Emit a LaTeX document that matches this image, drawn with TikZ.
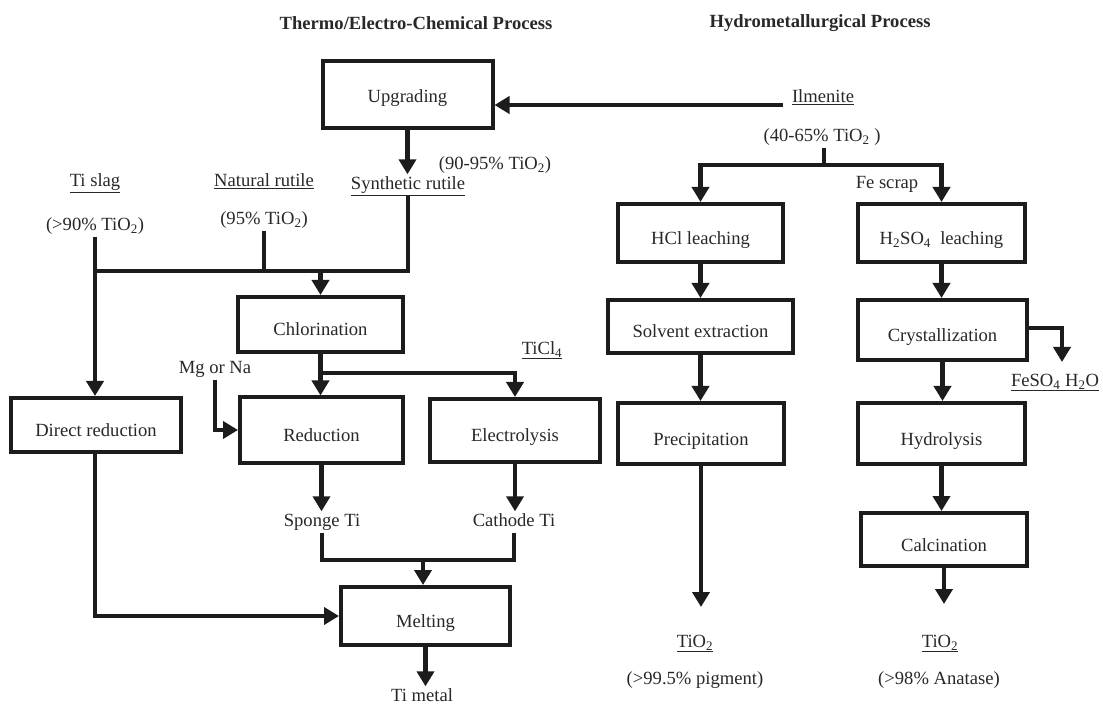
\documentclass[tikz,border=0pt]{standalone}
\usepackage{fontspec}
\setmainfont{Liberation Serif}
\usetikzlibrary{arrows.meta}
\definecolor{ink}{RGB}{28,28,28}
\definecolor{txt}{RGB}{40,40,40}
\begin{document}
\begin{tikzpicture}[x=1pt,y=-1pt,
  every node/.style={font=\fontsize{18.6}{22}\selectfont, text=txt, inner sep=2pt},
  proc/.style={draw=ink, line width=4pt, text height=23pt, text depth=0pt},
  lbl/.style={text height=13pt, text depth=4pt},
  ttl/.style={font=\fontsize{18.6}{22}\selectfont\bfseries},
  ln/.style={draw=ink, line width=4.5pt, line join=miter},
  arr/.style={ln, -{Triangle[width=17pt,length=15pt]}}
]
\useasboundingbox[fill=white] (0,0) rectangle (1103,708);

% titles
\node[ttl] (t1) at (416,23) {Thermo/Electro-Chemical Process};
\node[ttl] (t2) at (820,23) {Hydrometallurgical Process};

% boxes
\node[proc, minimum width=170pt, minimum height=67pt, text height=16pt] (upg) at (407.5,95) {Upgrading};
\node[proc, minimum width=165pt, minimum height=55pt] (chl) at (320.5,324.5) {Chlorination};
\node[proc, minimum width=170pt, minimum height=54pt] (dir) at (96,425) {Direct reduction};
\node[proc, minimum width=163pt, minimum height=65pt] (red) at (321.5,430) {Reduction};
\node[proc, minimum width=170pt, minimum height=63pt] (ele) at (515,430.5) {Electrolysis};
\node[proc, minimum width=169pt, minimum height=58pt] (mel) at (425.5,616) {Melting};
\node[proc, minimum width=165pt, minimum height=58pt] (hcl) at (700.5,233) {HCl leaching};
\node[proc, minimum width=167pt, minimum height=58pt] (hso) at (941.5,233) {H\textsubscript{2}SO\textsubscript{4}\ \ leaching};
\node[proc, minimum width=185pt, minimum height=53pt] (sol) at (700.5,326.5) {Solvent extraction};
\node[proc, minimum width=169pt, minimum height=60pt] (cry) at (942.5,330) {Crystallization};
\node[proc, minimum width=166pt, minimum height=61pt] (pre) at (701,433.5) {Precipitation};
\node[proc, minimum width=167pt, minimum height=61pt] (hyd) at (941.5,433.5) {Hydrolysis};
\node[proc, minimum width=166pt, minimum height=53pt] (cal) at (944,539.5) {Calcination};

% labels
\node[lbl] (ilm) at (823,98) {\underline{Ilmenite}};
\node[lbl] (ilmp) at (822,137) {(40-65\% TiO\textsubscript{2} )};
\node[lbl] (syn) at (408,185) {\underline{Synthetic rutile}};
\node[lbl] (synp) at (495,165) {(90-95\% TiO\textsubscript{2})};
\node[lbl] (nat) at (264,182) {\underline{Natural rutile}};
\node[lbl] (natp) at (264,220) {(95\% TiO\textsubscript{2})};
\node[lbl] (sla) at (95,182) {\underline{Ti slag}};
\node[lbl] (slap) at (95,226) {(>90\% TiO\textsubscript{2})};
\node[lbl] (mg) at (215,369) {Mg or Na};
\node[lbl] (ticl) at (542,350) {\underline{TiCl\textsubscript{4}}};
\node[lbl] (spo) at (322,522) {Sponge Ti};
\node[lbl] (cat) at (514,522) {Cathode Ti};
\node[lbl] (tim) at (422,697) {Ti metal};
\node[lbl] (fes) at (887,184) {Fe scrap};
\node[lbl] (feso) at (1055,382) {\underline{FeSO\textsubscript{4} H\textsubscript{2}O}};
\node[lbl] (tio1) at (695,643) {\underline{TiO\textsubscript{2}}};
\node[lbl] (tio1p) at (695,680) {(>99.5\% pigment)};
\node[lbl] (tio2) at (940,643) {\underline{TiO\textsubscript{2}}};
\node[lbl] (tio2p) at (939,680) {(>98\% Anatase)};

% helper coordinates
\coordinate (ilmL) at (783,105);
\coordinate (mrg) at (405,271);
\coordinate (br) at (323,373);
\coordinate (jn) at (423,560);
\coordinate (sp) at (824,165);
\coordinate (tip1) at (697,607);
\coordinate (tip2) at (943,604);
\coordinate (cr) at (1062,362);

% thermo / electro-chemical
\draw[arr] (ilmL) -- (upg.east |- ilmL);
\draw[arr] (upg.south) -- (upg.south |- syn.north);
\draw[ln] (syn.south) -- (syn.south |- mrg) -- (slap.south |- mrg);
\draw[ln] (natp.south) -- (natp.south |- mrg);
\draw[arr] (slap.south) -- (slap.south |- dir.north);
\draw[arr] (chl.north |- mrg) -- (chl.north);
\draw[arr] (chl.south) -- (chl.south |- red.north);
\draw[arr] (chl.south |- br) -| (ele.north);
\draw[arr] (mg.south) |- (red.west);
\draw[arr] (red.south) -- (red.south |- spo.north);
\draw[arr] (ele.south) -- (ele.south |- cat.north);
\draw[ln] (spo.south) |- (jn) -| (cat.south);
\draw[arr] (jn) -- (jn |- mel.north);
\draw[arr] (slap.south |- dir.south) |- (mel.west);
\draw[arr] (mel.south) -- (mel.south |- tim.north);

% hydrometallurgical
\draw[ln] (sp |- ilmp.south) -- (sp);
\draw[arr] (sp) -| (hcl.north);
\draw[arr] (sp) -| (hso.north);
\draw[arr] (hcl.south) -- (hcl.south |- sol.north);
\draw[arr] (sol.south) -- (sol.south |- pre.north);
\draw[arr] (pre.south) -- (pre.south |- tip1);
\draw[arr] (hso.south) -- (hso.south |- cry.north);
\draw[arr] (cry.south) -- (cry.south |- hyd.north);
\draw[arr] (hyd.south) -- (hyd.south |- cal.north);
\draw[arr] (cal.south) -- (cal.south |- tip2);
\draw[arr] (cry.east |- 0,328) -| (cr);
\end{tikzpicture}
\end{document}
